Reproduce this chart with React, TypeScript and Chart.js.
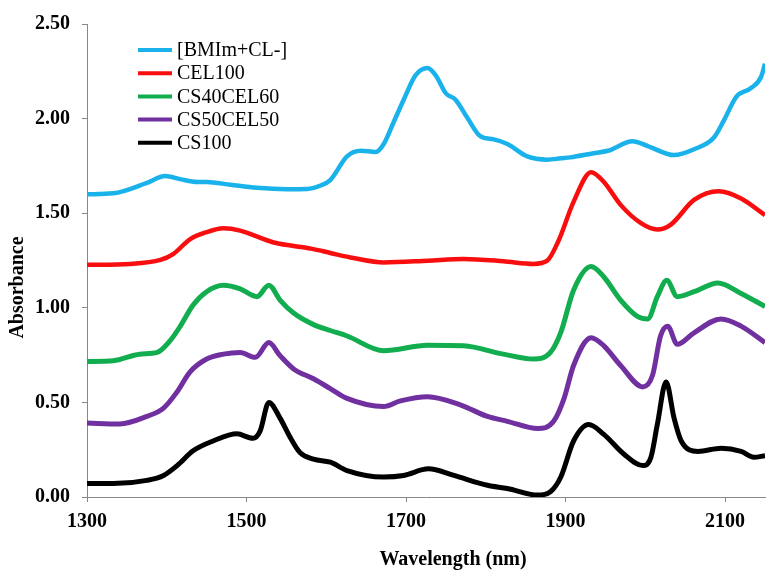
import React, { useEffect, useRef } from "react";
import { Chart, registerables } from "chart.js";

Chart.register(...registerables);

// ---- Data ----
const seriesLabels = ["[BMIm+CL-]", "CEL100", "CS40CEL60", "CS50CEL50", "CS100"];
const seriesColors = ["#1AB2EA", "#F80E0E", "#12AD4F", "#7030A0", "#000000"];

const bmimWl = [1300, 1333, 1375, 1398, 1417, 1438, 1450, 1480, 1513, 1551, 1576, 1592, 1605, 1626, 1643, 1662, 1672, 1684, 1697, 1712, 1727, 1737, 1750, 1762, 1777, 1793, 1810, 1827, 1852, 1877, 1894, 1906, 1935, 1953, 1984, 2003, 2036, 2061, 2086, 2099, 2114, 2132, 2145, 2150];
const bmimAbs = [1.60, 1.605, 1.66, 1.696, 1.68, 1.665, 1.665, 1.65, 1.634, 1.627, 1.628, 1.645, 1.675, 1.80, 1.83, 1.824, 1.866, 1.977, 2.10, 2.23, 2.268, 2.23, 2.133, 2.10, 2.003, 1.907, 1.89, 1.866, 1.80, 1.783, 1.79, 1.795, 1.817, 1.83, 1.88, 1.855, 1.807, 1.838, 1.90, 1.995, 2.115, 2.16, 2.22, 2.29];

const cel100Wl = [1300, 1354, 1392, 1408, 1429, 1450, 1471, 1492, 1534, 1559, 1584, 1605, 1634, 1672, 1727, 1772, 1822, 1860, 1877, 1891, 1910, 1932, 1948, 1969, 1994, 2015, 2032, 2061, 2092, 2120, 2150];
const cel100Abs = [1.227, 1.232, 1.253, 1.284, 1.362, 1.40, 1.42, 1.408, 1.345, 1.327, 1.31, 1.29, 1.263, 1.24, 1.249, 1.258, 1.246, 1.232, 1.249, 1.353, 1.56, 1.717, 1.665, 1.544, 1.449, 1.414, 1.44, 1.57, 1.616, 1.578, 1.49];

const cs40Wl = [1300, 1333, 1366, 1388, 1404, 1417, 1433, 1450, 1471, 1492, 1513, 1528, 1542, 1559, 1584, 1605, 1626, 1672, 1727, 1772, 1822, 1860, 1881, 1894, 1910, 1932, 1948, 1969, 1990, 2003, 2015, 2027, 2040, 2061, 2091, 2120, 2150];
const cs40Abs = [0.716, 0.72, 0.755, 0.764, 0.825, 0.903, 1.015, 1.085, 1.119, 1.10, 1.059, 1.119, 1.041, 0.972, 0.911, 0.88, 0.851, 0.773, 0.802, 0.799, 0.755, 0.729, 0.764, 0.87, 1.093, 1.218, 1.163, 1.041, 0.955, 0.941, 1.059, 1.145, 1.059, 1.085, 1.131, 1.076, 1.007];

const cs50Wl = [1300, 1341, 1375, 1396, 1413, 1429, 1450, 1471, 1492, 1511, 1528, 1542, 1559, 1584, 1605, 1626, 1672, 1693, 1727, 1768, 1802, 1827, 1865, 1885, 1898, 1910, 1932, 1948, 1969, 1997, 2009, 2019, 2028, 2040, 2061, 2095, 2120, 2150];
const cs50Abs = [0.391, 0.386, 0.426, 0.47, 0.556, 0.66, 0.729, 0.755, 0.764, 0.738, 0.816, 0.747, 0.677, 0.625, 0.573, 0.521, 0.478, 0.508, 0.53, 0.487, 0.426, 0.40, 0.362, 0.40, 0.52, 0.695, 0.842, 0.799, 0.695, 0.582, 0.643, 0.851, 0.903, 0.807, 0.868, 0.941, 0.903, 0.816];

const cs100Wl = [1300, 1333, 1375, 1396, 1413, 1433, 1458, 1488, 1508, 1517, 1528, 1542, 1555, 1567, 1584, 1605, 1626, 1672, 1697, 1728, 1760, 1802, 1827, 1865, 1881, 1894, 1910, 1929, 1948, 1973, 1997, 2007, 2015, 2026, 2036, 2045, 2066, 2095, 2120, 2136, 2150];
const cs100Abs = [0.071, 0.071, 0.088, 0.114, 0.166, 0.244, 0.296, 0.334, 0.31, 0.348, 0.50, 0.417, 0.313, 0.235, 0.20, 0.184, 0.14, 0.106, 0.114, 0.149, 0.114, 0.062, 0.045, 0.010, 0.028, 0.106, 0.296, 0.383, 0.331, 0.227, 0.166, 0.21, 0.383, 0.608, 0.417, 0.296, 0.241, 0.258, 0.241, 0.21, 0.218];

const xTicks = [1300, 1500, 1700, 1900, 2100];
const yTicks = [0, 0.5, 1.0, 1.5, 2.0, 2.5];
const xMin = 1300;
const xMax = 2150;
const yMin = 0;
const yMax = 2.5;

const xTitle = "Wavelength (nm)";
const yTitle = "Absorbance";

const seriesWl = [bmimWl, cel100Wl, cs40Wl, cs50Wl, cs100Wl];
const seriesAbs = [bmimAbs, cel100Abs, cs40Abs, cs50Abs, cs100Abs];
const seriesWidth = [4.5, 4.5, 5, 5, 5];

const FONT = "'Liberation Serif', 'Times New Roman', serif";
const AXIS_GRAY = "#888888";

const overlayPlugin = {
  id: "overlay",
  afterDraw(chart: any) {
    const ctx = chart.ctx;
    const area = chart.chartArea;
    ctx.save();
    // Legend inside chart area
    const lx0 = area.left + 51;
    const lx1 = lx0 + 34;
    let ly = area.top + 26;
    ctx.font = `20px ${FONT}`;
    ctx.textBaseline = "middle";
    ctx.textAlign = "left";
    chart.data.datasets.forEach((ds: any) => {
      ctx.strokeStyle = ds.borderColor;
      ctx.lineWidth = 4;
      ctx.lineCap = "butt";
      ctx.beginPath();
      ctx.moveTo(lx0, ly);
      ctx.lineTo(lx1, ly);
      ctx.stroke();
      ctx.fillStyle = "#000";
      ctx.fillText(ds.label, lx1 + 5, ly + 1);
      ly += 23.2;
    });
    // Axis titles
    ctx.font = `bold 20px ${FONT}`;
    ctx.fillStyle = "#000";
    ctx.textAlign = "center";
    ctx.textBaseline = "middle";
    ctx.fillText(xTitle, (area.left + area.right) / 2 + 27, 560);
    ctx.translate(18, (area.top + area.bottom) / 2 + 27);
    ctx.rotate(-Math.PI / 2);
    ctx.fillText(yTitle, 0, 0);
    ctx.restore();
  },
};

export default function App() {
  const ref = useRef<HTMLCanvasElement | null>(null);

  useEffect(() => {
    document.body.style.margin = "0";
    const canvas = ref.current;
    if (!canvas) return;
    const datasets = seriesLabels.map((label, i) => ({
      label,
      data: seriesWl[i].map((x, j) => ({ x, y: seriesAbs[i][j] })),
      borderColor: seriesColors[i],
      backgroundColor: seriesColors[i],
      borderWidth: seriesWidth[i],
      pointRadius: 0,
      fill: false,
      cubicInterpolationMode: "monotone" as const,
      tension: 0.4,
    }));
    const chart = new Chart(canvas, {
      type: "line",
      data: { datasets },
      options: {
        animation: false,
        responsive: false,
        devicePixelRatio: 1,
        layout: { padding: { top: 16, right: 14, left: 0, bottom: 0 } },
        plugins: { legend: { display: false }, tooltip: { enabled: false } },
        scales: {
          x: {
            type: "linear",
            min: xMin,
            max: xMax,
            afterBuildTicks: (scale: any) => {
              scale.ticks = xTicks.map((v) => ({ value: v }));
            },
            afterFit: (scale: any) => {
              scale.height = 83;
            },
            grid: {
              display: true,
              drawOnChartArea: false,
              drawTicks: true,
              tickLength: 5,
              tickColor: AXIS_GRAY,
            },
            border: { color: AXIS_GRAY, width: 1 },
            ticks: {
              padding: 8,
              color: "#000",
              maxRotation: 0,
              font: { family: FONT, size: 20, weight: "bold" },
              callback: (v: any) => String(v),
            },
          },
          y: {
            type: "linear",
            min: yMin,
            max: yMax,
            afterBuildTicks: (scale: any) => {
              scale.ticks = yTicks.map((v) => ({ value: v }));
            },
            afterFit: (scale: any) => {
              scale.width = 87;
            },
            grid: {
              display: true,
              drawOnChartArea: false,
              drawTicks: true,
              tickLength: 5,
              tickColor: AXIS_GRAY,
            },
            border: { color: AXIS_GRAY, width: 1 },
            ticks: {
              padding: 12,
              color: "#000",
              font: { family: FONT, size: 20, weight: "bold" },
              callback: (v: any) => Number(v).toFixed(2),
            },
          },
        },
      },
      plugins: [overlayPlugin],
    });
    return () => chart.destroy();
  }, []);

  return (
    <div style={{ width: 779, height: 580, background: "#fff" }}>
      <canvas ref={ref} width={779} height={580} style={{ display: "block" }} />
    </div>
  );
}
